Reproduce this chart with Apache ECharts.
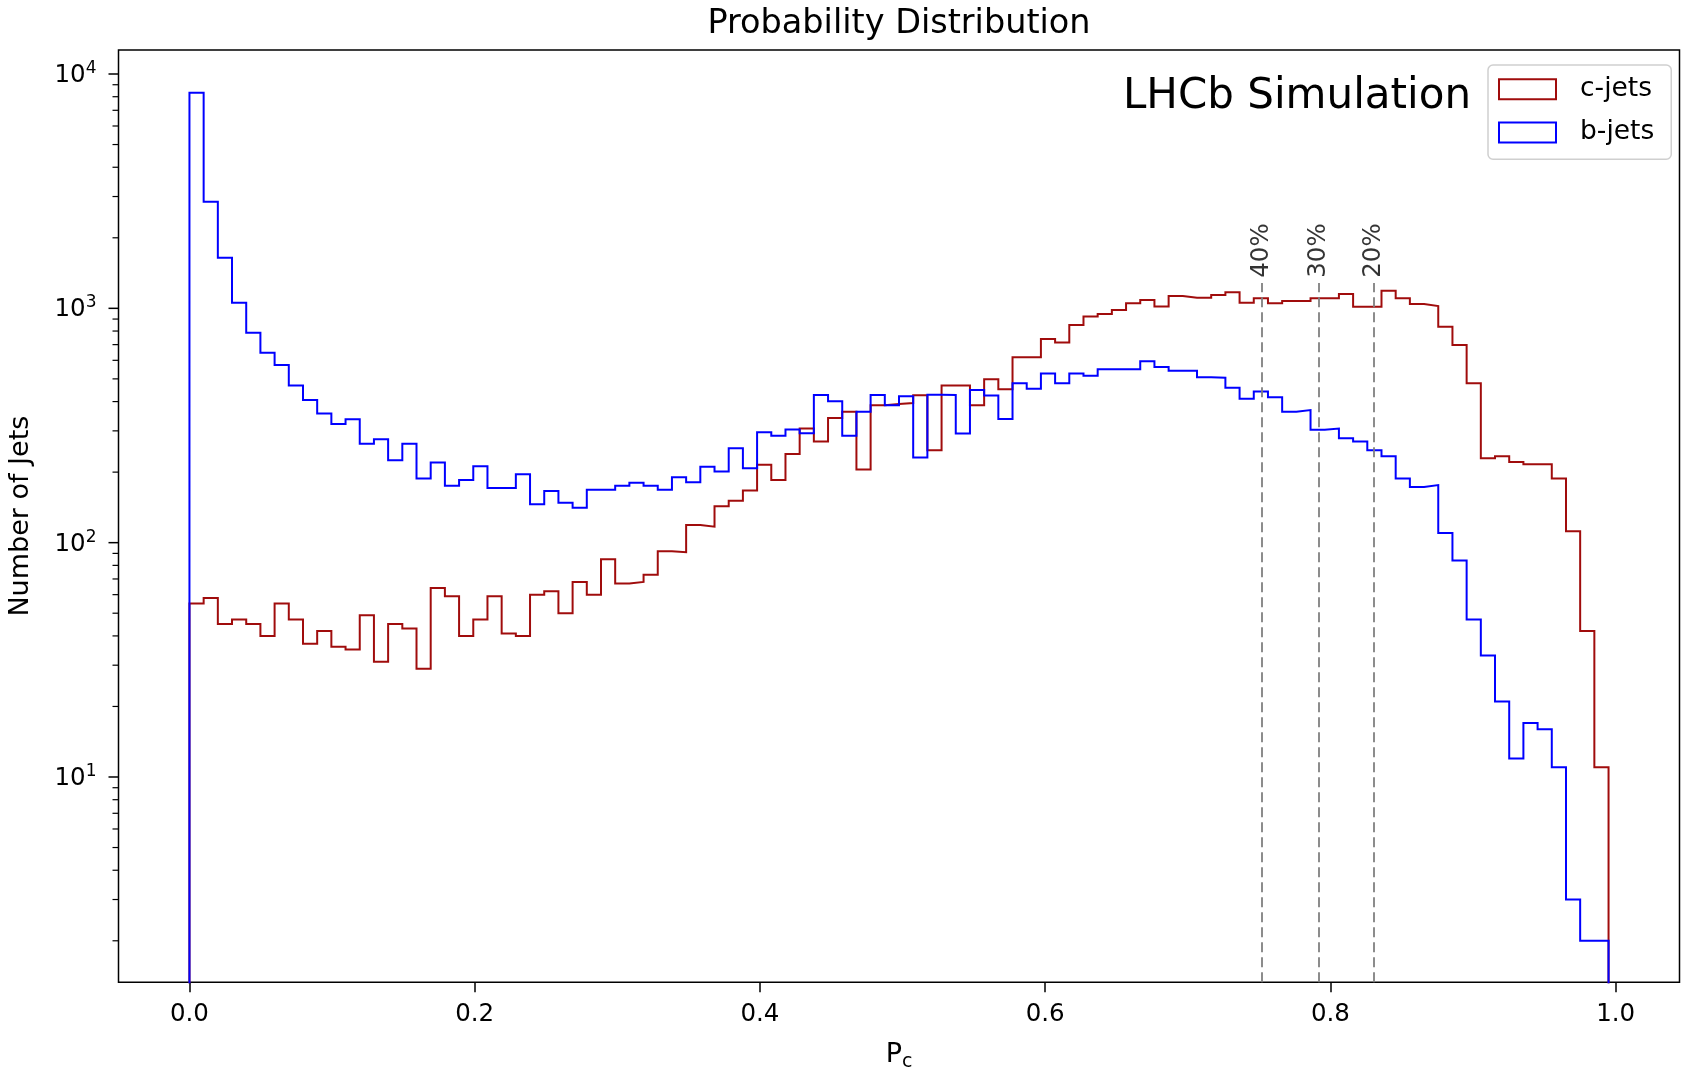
<!DOCTYPE html>
<html>
<head>
<meta charset="utf-8">
<script src="https://cdn.jsdelivr.net/npm/echarts@6/dist/echarts.min.js"></script>
<style>
  html, body { margin: 0; padding: 0; background: #ffffff; }
  #chart { width: 1682px; height: 1072px; }
</style>
</head>
<body>
<div id="chart"></div>
<script>
// P_c distribution for c- and b-jets: 100 equal-width bins over the observed range
const BIN_RANGE = [0, 0.995];

const cJets = [
  55, 58, 45, 47, 45, 40, 55, 47, 37, 42,
  36, 35, 49, 31, 45, 43, 29, 64, 59, 40,
  47, 59, 41, 40, 60, 62, 50, 68, 60, 85,
  67, 68, 73, 92, 91, 119, 117, 143, 151, 167,
  215, 185, 239, 307, 270, 340, 362, 205, 386, 391,
  394, 426, 248, 469, 469, 386, 498, 451, 618, 618,
  739, 715, 849, 922, 945, 984, 1052, 1085, 1018, 1129,
  1110, 1110, 1140, 1170, 1057, 1104, 1050, 1075, 1075, 1104,
  1104, 1151, 1016, 1016, 1189, 1104, 1043, 1023, 835, 697,
  479, 229, 234, 221, 216, 216, 188, 112, 42, 11
];

const bJets = [
  8320, 2850, 1644, 1057, 787, 647, 573, 468, 406, 356,
  321, 336, 264, 276, 225, 264, 188, 220, 175, 185,
  212, 171, 171, 196, 146, 166, 148, 141, 168, 168,
  175, 180, 175, 168, 190, 181, 211, 201, 253, 208,
  296, 286, 304, 293, 427, 401, 286, 362, 427, 386,
  422, 231, 428, 427, 292, 448, 425, 337, 479, 454,
  527, 479, 527, 516, 549, 549, 549, 594, 562, 541,
  541, 508, 506, 458, 411, 442, 417, 362, 368, 303,
  307, 279, 270, 248, 234, 188, 173, 176, 110, 84,
  47, 33, 21, 12, 17, 16, 11, 3, 2, 2
];

// working-point cuts on P_c and their b-jet mistag labels
const cutValues = [0.752, 0.7915, 0.8305];
const cutLabels = ['40%', '30%', '20%'];

// axis ticks
const xTicks = [0, 0.2, 0.4, 0.6, 0.8, 1.0];
const yMajorTicks = [10, 100, 1000, 10000];
const yMinorTicks = [1, 10, 100, 1000].flatMap(d => [2, 3, 4, 5, 6, 7, 8, 9].map(k => k * d));

// axis ranges
const X_MIN = -0.04975, X_MAX = 1.04475;
const Y_MIN = 1.33, Y_MAX = 12660;
// an empty count sits below the log axis and gets clipped, like a zero bin edge
const ZERO = 1e-3;

const RED = '#a00c0c';
const BLUE = '#0000ff';
const FONT = 'DejaVu Sans';

// outline of a step histogram: up from zero at the first edge, across every bin, down at the last edge
function stepOutline(counts) {
  const n = counts.length;
  const w = (BIN_RANGE[1] - BIN_RANGE[0]) / n;
  const pts = [[BIN_RANGE[0], ZERO]];
  counts.forEach((c, i) => {
    const x0 = BIN_RANGE[0] + i * w;
    pts.push([x0, c], [x0 + w, c]);
  });
  pts.push([BIN_RANGE[1], ZERO]);
  return pts;
}

// value at a given fraction of the log y axis height
function yAtFraction(f) {
  const a = Math.log10(Y_MIN), b = Math.log10(Y_MAX);
  return Math.pow(10, a + f * (b - a));
}

// y tick marks (major and minor decades), placed through the log axis
const yTickData = yMajorTicks.map(v => [X_MIN, v, 10, 1.5])
  .concat(yMinorTicks.map(v => [X_MIN, v, 6, 1.2]));

function renderYTick(params, api) {
  const p = api.coord([api.value(0), api.value(1)]);
  const len = api.value(2);
  return {
    type: 'line',
    shape: { x1: p[0] - len, y1: p[1], x2: p[0], y2: p[1] },
    style: { stroke: '#000', lineWidth: api.value(3) }
  };
}

const chart = echarts.init(document.getElementById('chart'), null, { renderer: 'canvas' });

const option = {
  animation: false,
  backgroundColor: '#ffffff',
  textStyle: { fontFamily: FONT, color: '#000' },
  title: [
    {
      text: 'Probability Distribution',
      left: 899, top: 4.5, textAlign: 'center', padding: 0,
      textStyle: { fontFamily: FONT, fontSize: 33.5, fontWeight: 'normal', color: '#000', lineHeight: 40 }
    },
    {
      text: 'LHCb Simulation',
      right: 211, top: 72, padding: 0,
      textStyle: { fontFamily: FONT, fontSize: 42, fontWeight: 'normal', color: '#000', lineHeight: 50 }
    }
  ],
  grid: {
    left: 118.5, right: 2.5, top: 50, bottom: 89.7,
    show: true, borderColor: '#000', borderWidth: 1.5, backgroundColor: 'transparent',
    containLabel: false, outerBoundsMode: 'none'
  },
  legend: {
    orient: 'vertical',
    left: 1488, top: 65,
    padding: [10.7, 17, 13.3, 10],
    itemWidth: 57, itemHeight: 20, itemGap: 16.3,
    backgroundColor: 'rgba(255,255,255,0.8)',
    borderColor: '#cfcfcf', borderWidth: 1.5, borderRadius: 5,
    selectedMode: false,
    textStyle: { fontFamily: FONT, fontSize: 26.5, lineHeight: 26, color: '#000', padding: [0, 0, 0, 19] },
    data: [
      { name: 'c-jets', icon: 'rect', itemStyle: { color: '#ffffff', borderColor: RED, borderWidth: 2 } },
      { name: 'b-jets', icon: 'rect', itemStyle: { color: '#ffffff', borderColor: BLUE, borderWidth: 2 } }
    ]
  },
  xAxis: {
    type: 'value', min: X_MIN, max: X_MAX,
    name: '{p|P}{s|c}', nameLocation: 'middle', nameGap: 59,
    nameTextStyle: {
      rich: {
        p: { fontFamily: FONT, fontSize: 27, lineHeight: 30, color: '#000', verticalAlign: 'top' },
        s: { fontFamily: FONT, fontSize: 19, lineHeight: 19, color: '#000', verticalAlign: 'bottom', padding: [12, 0, 0, 0] }
      }
    },
    axisLine: { show: false },
    splitLine: { show: false },
    axisTick: { show: true, length: 10, customValues: xTicks, lineStyle: { color: '#000', width: 1.5 } },
    axisLabel: {
      customValues: xTicks, formatter: v => Number(v).toFixed(1),
      fontFamily: FONT, fontSize: 24.5, color: '#000', margin: 20
    }
  },
  yAxis: {
    type: 'log', logBase: 10, min: Y_MIN, max: Y_MAX,
    name: 'Number of Jets', nameLocation: 'middle', nameGap: 84,
    nameTextStyle: { fontFamily: FONT, fontSize: 27, lineHeight: 27, color: '#000' },
    axisLine: { show: false },
    splitLine: { show: false },
    minorTick: { show: false },
    axisTick: { show: false },
    axisLabel: {
      customValues: yMajorTicks, margin: 22,
      formatter: v => '{b|10}{s|' + Math.round(Math.log10(v)) + '}',
      rich: {
        b: { fontFamily: FONT, fontSize: 24.5, lineHeight: 28, color: '#000', verticalAlign: 'bottom' },
        s: { fontFamily: FONT, fontSize: 17, lineHeight: 17, color: '#000', verticalAlign: 'top' }
      }
    }
  },
  series: [
    {
      name: 'c-jets', type: 'line',
      data: stepOutline(cJets),
      showSymbol: false, symbol: 'none', clip: true, silent: true,
      lineStyle: { color: RED, width: 2, join: 'miter' },
      itemStyle: { color: RED },
      z: 2
    },
    {
      name: 'b-jets', type: 'line',
      data: stepOutline(bJets),
      showSymbol: false, symbol: 'none', clip: true, silent: true,
      lineStyle: { color: BLUE, width: 2, join: 'miter' },
      itemStyle: { color: BLUE },
      z: 3,
      markLine: {
        silent: true, symbol: 'none', animation: false,
        label: { show: false },
        lineStyle: { color: '#808080', width: 1.8, type: [10, 5] },
        data: cutValues.map(x => [{ coord: [x, Y_MIN] }, { coord: [x, yAtFraction(0.75)] }])
      }
    },
    {
      name: 'cuts', type: 'scatter', silent: true,
      symbolSize: 0,
      data: cutValues.map((x, i) => [x, yAtFraction(0.76), cutLabels[i]]),
      label: {
        show: true, position: 'inside', rotate: 90,
        align: 'left', verticalAlign: 'middle', offset: [-4, 0],
        formatter: p => p.data[2],
        fontFamily: FONT, fontSize: 24.5, color: '#000'
      },
      z: 4
    },
    {
      name: 'yTicks', type: 'custom', silent: true, clip: false,
      data: yTickData,
      renderItem: renderYTick,
      z: 5
    }
  ]
};

chart.setOption(option);
</script>
</body>
</html>
